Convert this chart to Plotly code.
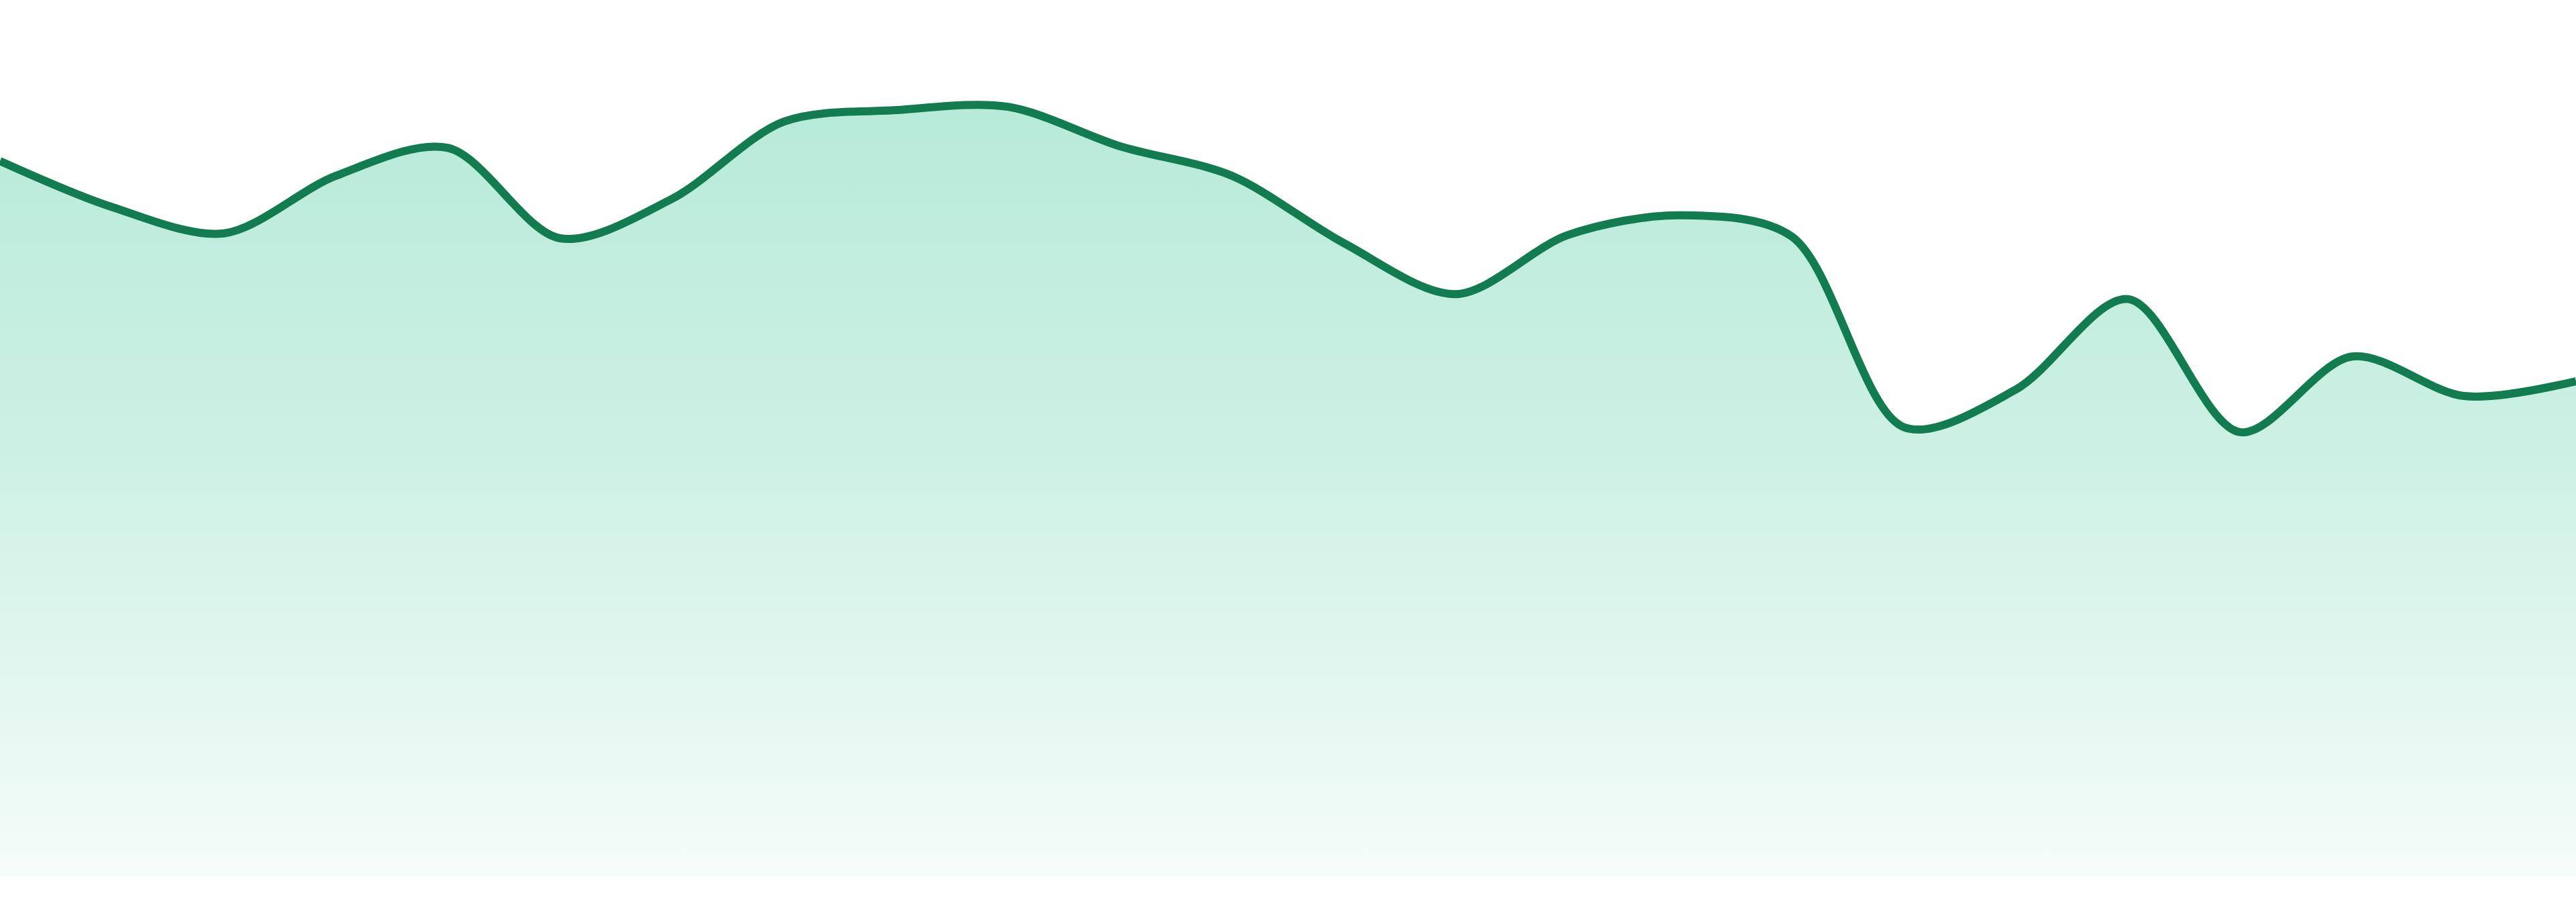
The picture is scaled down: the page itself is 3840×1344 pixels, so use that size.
import plotly.graph_objects as go

# daily values (24 samples, evenly spaced)
days = list(range(1, 25))
values = [435, 407, 391, 426, 443, 388, 412, 459, 466, 468, 444, 426,
          385, 354, 390, 402, 389, 273, 296, 351, 270, 316, 292, 301]

GREEN = '16,185,129'

fig = go.Figure()
fig.add_trace(
    go.Scatter(
        x=days, y=values,
        mode='lines',
        line=dict(color='#127b50', width=12, shape='spline', smoothing=0.9),
        fill='tozeroy',
        fillgradient=dict(
            type='vertical',
            start=0, stop=470,
            colorscale=[
                [0, f'rgba({GREEN},0.04)'],
                [0.25, f'rgba({GREEN},0.12)'],
                [0.55, f'rgba({GREEN},0.21)'],
                [1, f'rgba({GREEN},0.30)'],
            ],
        ),
        hoverinfo='skip',
    )
)

fig.update_layout(
    width=3840, height=1344,
    margin=dict(l=0, r=0, t=0, b=39),
    paper_bgcolor='white', plot_bgcolor='white',
    showlegend=False,
    xaxis=dict(visible=False, range=[1, 24], fixedrange=True),
    yaxis=dict(visible=False, range=[0, 533], fixedrange=True),
)

# page body has a default 8px margin, drop it so the plot sits flush
fig.write_html("out.html", config={'displayModeBar': False},
               post_script="document.body.style.margin='0';")
